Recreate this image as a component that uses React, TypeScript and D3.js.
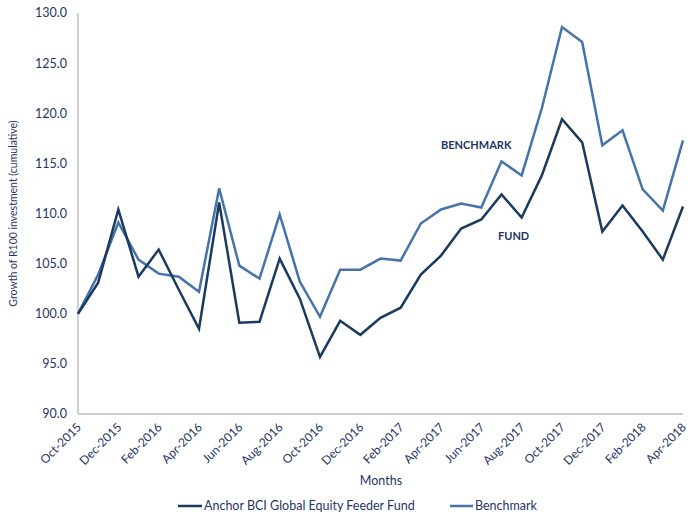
import React from "react";
import * as d3 from "d3";

const months = [
  "Oct-2015", "Nov-2015", "Dec-2015", "Jan-2016", "Feb-2016", "Mar-2016", "Apr-2016",
  "May-2016", "Jun-2016", "Jul-2016", "Aug-2016", "Sep-2016", "Oct-2016", "Nov-2016",
  "Dec-2016", "Jan-2017", "Feb-2017", "Mar-2017", "Apr-2017", "May-2017", "Jun-2017",
  "Jul-2017", "Aug-2017", "Sep-2017", "Oct-2017", "Nov-2017", "Dec-2017", "Jan-2018",
  "Feb-2018", "Mar-2018", "Apr-2018",
];

const fund = [
  100.0, 103.1, 110.4, 103.7, 106.4, 102.4, 98.5, 111.1, 99.1, 99.2, 105.5, 101.5,
  95.7, 99.3, 97.9, 99.6, 100.6, 103.9, 105.8, 108.5, 109.4, 111.9, 109.6, 113.8,
  119.4, 117.1, 108.2, 110.8, 108.2, 105.4, 110.7,
];

const benchmark = [
  100.0, 103.9, 109.1, 105.4, 104.0, 103.7, 102.2, 112.5, 104.8, 103.5, 109.9, 103.2,
  99.7, 104.4, 104.4, 105.5, 105.3, 109.0, 110.4, 111.0, 110.6, 115.2, 113.8, 120.5,
  128.6, 127.1, 116.8, 118.3, 112.4, 110.3, 117.3,
];

const yTicks = [90, 95, 100, 105, 110, 115, 120, 125, 130];

const FUND_COLOR = "#1a3a5e";
const BENCH_COLOR = "#4673aa";
const TEXT_COLOR = "#1f3566";
const AXIS_COLOR = "#bfbfbf";
const FONT = "Lato, 'Open Sans', sans-serif";

export default function App() {
  const width = 691;
  const height = 515;

  const x = d3.scalePoint<string>().domain(months).range([78, 683]);
  const y = d3.scaleLinear().domain([90, 130]).range([414, 13]);

  const line = d3
    .line<number>()
    .x((d, i) => x(months[i]) as number)
    .y((d) => y(d));

  // every second month gets a label
  const tickMonths = months.filter((m, i) => i % 2 === 0);

  return (
    <svg
      width={width}
      height={height}
      style={{ position: "absolute", left: 0, top: 0, background: "#fff" }}
      fontFamily={FONT}
    >
      {/* axes */}
      <line x1={78} x2={78} y1={y(130)} y2={y(90)} stroke={AXIS_COLOR} strokeWidth={1.5} />
      <line x1={78} x2={683} y1={y(90)} y2={y(90)} stroke={AXIS_COLOR} strokeWidth={1.5} />

      {yTicks.map((t) => (
        <text
          key={t}
          x={67}
          y={y(t)}
          dy="0.35em"
          textAnchor="end"
          fontSize={12.5}
          fill={TEXT_COLOR}
        >
          {t.toFixed(1)}
        </text>
      ))}

      {tickMonths.map((m) => (
        <text
          key={m}
          transform={`translate(${(x(m) as number) + 1},${425}) rotate(-45)`}
          textAnchor="end"
          dy="0.35em"
          fontSize={12}
          fill={TEXT_COLOR}
        >
          {m}
        </text>
      ))}

      <text
        transform={`translate(17,${(y(130) + y(90)) / 2}) rotate(-90)`}
        textAnchor="middle"
        fontSize={10.5}
        fill={TEXT_COLOR}
      >
        Growth of R100 investment (cumulative)
      </text>

      <text x={381} y={485} textAnchor="middle" fontSize={12.5} fill={TEXT_COLOR}>
        Months
      </text>

      {/* series */}
      <path d={line(benchmark) ?? ""} fill="none" stroke={BENCH_COLOR} strokeWidth={2.5} />
      <path d={line(fund) ?? ""} fill="none" stroke={FUND_COLOR} strokeWidth={2.5} />

      {/* annotations */}
      <text x={441} y={149} fontSize={11} fontWeight="bold" fill={TEXT_COLOR}>
        BENCHMARK
      </text>
      <text x={498} y={240} fontSize={11} fontWeight="bold" fill={TEXT_COLOR}>
        FUND
      </text>

      {/* legend */}
      <line x1={178} x2={202} y1={506} y2={506} stroke={FUND_COLOR} strokeWidth={2.5} />
      <text x={204} y={506} dy="0.35em" fontSize={12.5} fill={TEXT_COLOR}>
        Anchor BCI Global Equity Feeder Fund
      </text>
      <line x1={450} x2={473} y1={506} y2={506} stroke={BENCH_COLOR} strokeWidth={2.5} />
      <text x={475} y={506} dy="0.35em" fontSize={12.5} fill={TEXT_COLOR}>
        Benchmark
      </text>
    </svg>
  );
}
